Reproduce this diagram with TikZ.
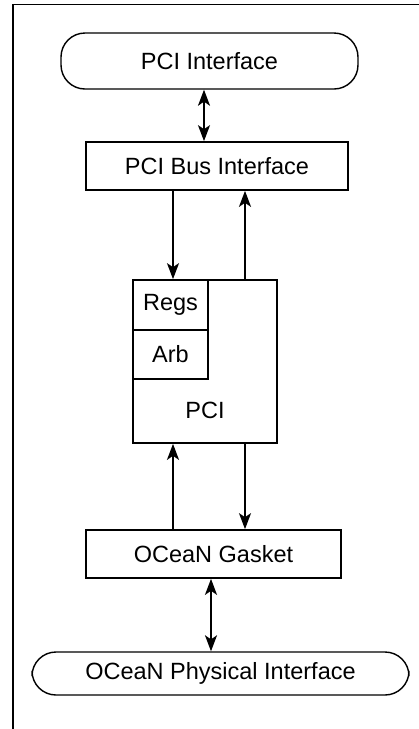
\documentclass[tikz,border=0pt]{standalone}
\usepackage{fontspec}
\setmainfont{Liberation Sans}
\usetikzlibrary{arrows.meta}
\begin{document}
\begin{tikzpicture}[x=1pt,y=-1pt,
  box/.style={draw, line width=1.7pt, inner sep=0pt, font=\fontsize{23.5}{28}\selectfont},
  pill/.style={box, line width=1.4pt, rounded corners=24pt},
  conn/.style={line width=1.7pt, -{Stealth[length=16pt,width=12pt,inset=4pt]}},
  conn2/.style={line width=1.7pt, {Stealth[length=16pt,width=12pt,inset=4pt]}-{Stealth[length=16pt,width=12pt,inset=4pt]}},
  lbl/.style={inner sep=0pt, font=\fontsize{23.5}{28}\selectfont}]
\useasboundingbox (0,0) rectangle (419,729);
% frame
\coordinate (ftl) at (13,4.5);
\coordinate (ftr) at (419,4.5);
\coordinate (fbl) at (13,729);
\draw[line width=1.7pt] (ftr) -- (ftl) -- (fbl);
% nodes
\node[pill, minimum width=297pt, minimum height=56pt] (pciif) at (209.5,61) {PCI Interface};
\node[box, minimum width=262pt, minimum height=48pt] (pcibus) at (217,166) {PCI Bus Interface};
\node[box, minimum width=144pt, minimum height=163pt] (pci) at (205,361.5) {};
\node[box, minimum width=75pt, minimum height=50pt] (regs) at (170.5,305) {Regs};
\node[box, minimum width=75pt, minimum height=49pt] (arb) at (170.5,354.5) {Arb};
\node[lbl] (pcil) at (205,410) {PCI};
\node[box, minimum width=255pt, minimum height=48pt] (gasket) at (213.5,554) {OCeaN Gasket};
\node[pill, minimum width=377pt, minimum height=43pt] (phys) at (220.5,673.5) {OCeaN Physical Interface};
% columns
\coordinate (c0) at (204,0);
\coordinate (c1) at (173,0);
\coordinate (c2) at (245,0);
\coordinate (c3) at (211,0);
% connectors
\draw[conn2] (pciif.south -| c0) -- (pcibus.north -| c0);
\draw[conn] (pcibus.south -| c1) -- (pci.north -| c1);
\draw[conn] (pci.north -| c2) -- (pcibus.south -| c2);
\draw[conn] (gasket.north -| c1) -- (pci.south -| c1);
\draw[conn] (pci.south -| c2) -- (gasket.north -| c2);
\draw[conn2] (gasket.south -| c3) -- (phys.north -| c3);
\end{tikzpicture}
\end{document}
